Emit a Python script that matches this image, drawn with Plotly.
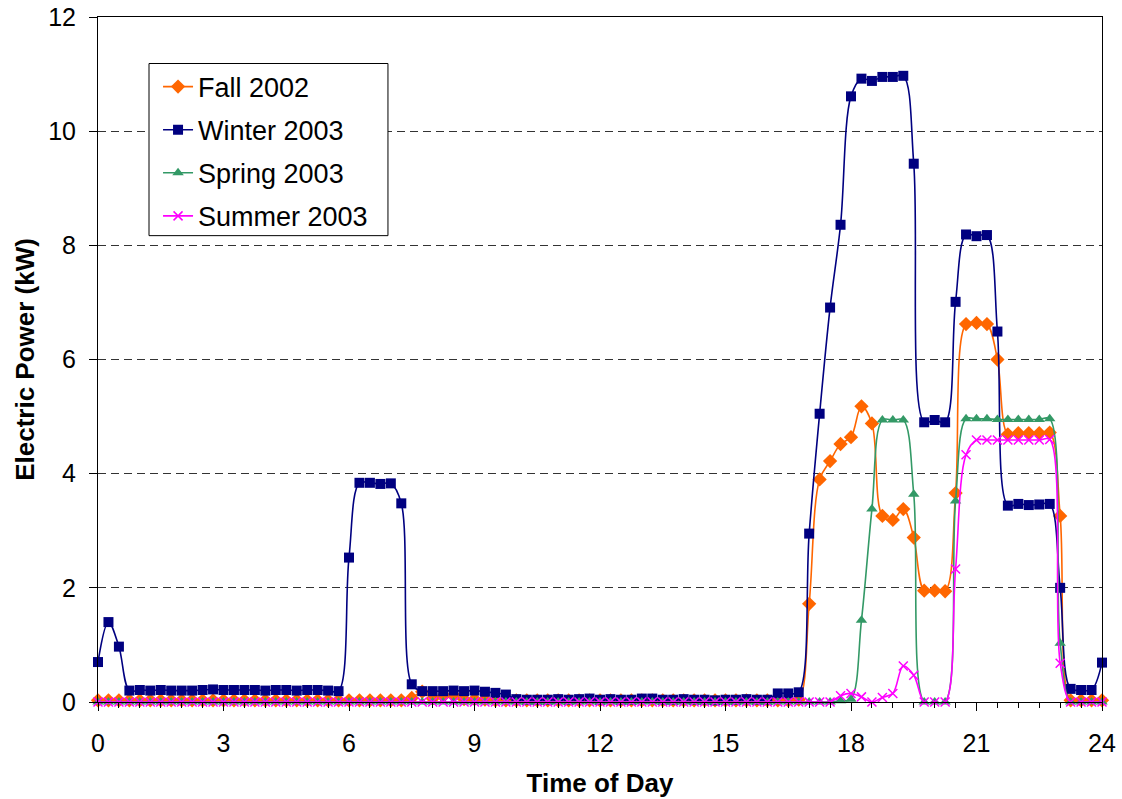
import plotly.graph_objects as go

# Time of day, sampled every 15 minutes from 0:00 to 24:00 (97 samples)
hours = [i * 0.25 for i in range(97)]

fall_2002 = [
    0.03, 0.03, 0.03, 0.03, 0.03, 0.03, 0.03, 0.03, 0.03, 0.03, 0.03, 0.03,
    0.03, 0.03, 0.03, 0.03, 0.03, 0.03, 0.03, 0.03, 0.03, 0.03, 0.03, 0.03,
    0.03, 0.03, 0.03, 0.03, 0.03, 0.03, 0.07, 0.18, 0.06, 0.10, 0.12, 0.05,
    0.05, 0.04, 0.03, 0.03, 0.03, 0.03, 0.03, 0.03, 0.03, 0.03, 0.03, 0.03,
    0.03, 0.03, 0.03, 0.03, 0.03, 0.03, 0.03, 0.03, 0.03, 0.03, 0.03, 0.03,
    0.03, 0.03, 0.03, 0.03, 0.03, 0.03, 0.03, 0.04, 1.72, 3.90, 4.22, 4.52,
    4.64, 5.18, 4.88, 3.26, 3.19, 3.38, 2.88, 1.95, 1.95, 1.94, 3.66, 6.62,
    6.64, 6.62, 6.00, 4.69, 4.71, 4.71, 4.71, 4.72, 3.26, 0.03, 0.03, 0.03,
    0.03,
]

winter_2003 = [
    0.70, 1.40, 0.97, 0.20, 0.21, 0.20, 0.21, 0.20, 0.20, 0.20, 0.21, 0.22,
    0.21, 0.21, 0.21, 0.21, 0.20, 0.21, 0.21, 0.20, 0.21, 0.21, 0.20, 0.19,
    2.53, 3.84, 3.84, 3.82, 3.83, 3.48, 0.31, 0.19, 0.19, 0.19, 0.20, 0.19,
    0.20, 0.18, 0.16, 0.13, 0.05, 0.04, 0.04, 0.04, 0.05, 0.04, 0.05, 0.06,
    0.04, 0.05, 0.04, 0.04, 0.06, 0.06, 0.04, 0.04, 0.05, 0.04, 0.04, 0.03,
    0.04, 0.04, 0.05, 0.04, 0.04, 0.15, 0.15, 0.17, 2.95, 5.05, 6.91, 8.36,
    10.61, 10.92, 10.88, 10.95, 10.95, 10.97, 9.43, 4.90, 4.94, 4.90, 7.01, 8.19,
    8.16, 8.18, 6.49, 3.44, 3.47, 3.45, 3.46, 3.47, 2.00, 0.23, 0.21, 0.21,
    0.69,
]

spring_2003 = [
    0.0, 0.0, 0.0, 0.0, 0.0, 0.0, 0.0, 0.0, 0.0, 0.0, 0.0, 0.0,
    0.0, 0.0, 0.0, 0.0, 0.0, 0.0, 0.0, 0.0, 0.0, 0.0, 0.0, 0.0,
    0.0, 0.0, 0.0, 0.0, 0.0, 0.0, 0.0, 0.0, 0.0, 0.0, 0.0, 0.0,
    0.0, 0.0, 0.0, 0.0, 0.0, 0.0, 0.0, 0.0, 0.0, 0.0, 0.0, 0.0,
    0.0, 0.0, 0.0, 0.0, 0.0, 0.0, 0.0, 0.0, 0.0, 0.0, 0.0, 0.0,
    0.0, 0.0, 0.0, 0.0, 0.0, 0.0, 0.0, 0.0, 0.0, 0.0, 0.0, 0.02,
    0.05, 1.43, 3.38, 4.94, 4.94, 4.94, 3.64, 0.0, 0.0, 0.0, 3.52, 4.96,
    4.96, 4.96, 4.95, 4.95, 4.95, 4.95, 4.95, 4.96, 1.03, 0.0, 0.0, 0.0,
    0.0,
]

summer_2003 = [
    0.0, 0.0, 0.0, 0.0, 0.0, 0.0, 0.0, 0.0, 0.0, 0.0, 0.0, 0.0,
    0.0, 0.0, 0.0, 0.0, 0.0, 0.0, 0.0, 0.0, 0.0, 0.0, 0.0, 0.0,
    0.0, 0.0, 0.0, 0.0, 0.0, 0.0, 0.0, 0.0, 0.0, 0.0, 0.0, 0.0,
    0.0, 0.0, 0.0, 0.0, 0.0, 0.0, 0.0, 0.0, 0.0, 0.0, 0.0, 0.0,
    0.0, 0.0, 0.0, 0.0, 0.0, 0.0, 0.0, 0.0, 0.0, 0.0, 0.0, 0.0,
    0.0, 0.0, 0.0, 0.0, 0.0, 0.0, 0.0, 0.0, 0.0, 0.0, 0.0, 0.11,
    0.15, 0.09, 0.0, 0.08, 0.15, 0.63, 0.47, 0.0, 0.0, 0.0, 2.33, 4.33,
    4.59, 4.59, 4.59, 4.59, 4.59, 4.59, 4.59, 4.60, 0.68, 0.0, 0.0, 0.0,
    0.0,
]

series = [
    ("Fall 2002", fall_2002, "#FF6600", "diamond", 11),
    ("Winter 2003", winter_2003, "#000080", "square", 10),
    ("Spring 2003", spring_2003, "#339966", "triangle-up", 10),
    ("Summer 2003", summer_2003, "#FF00FF", "x-thin-open", 9),
]

x_ticks = [0, 3, 6, 9, 12, 15, 18, 21, 24]
y_ticks = [0, 2, 4, 6, 8, 10, 12]

FONT = "Liberation Sans, Arial, sans-serif"

fig = go.Figure()
for i, (name, vals, color, sym, size) in enumerate(series):
    fig.add_trace(go.Scatter(
        x=hours, y=vals, name=name, mode="lines+markers",
        legendgroup=f"g{i}",
        line=dict(color=color, width=1.6, shape="spline", smoothing=1.0),
        marker=dict(symbol=sym, size=size, color=color,
                    line=dict(color=color, width=1.5 if sym.startswith("x") else 0)),
        cliponaxis=False,
    ))

# Legend frame (drawn as a shape so its size matches the original)
fig.add_shape(type="rect", xref="paper", yref="paper",
              x0=0.0508, x1=0.2888, y0=0.6808, y1=0.9321,
              line=dict(color="black", width=1), fillcolor="white", layer="above")

fig.update_layout(
    width=1122, height=799,
    margin=dict(l=98, r=20, t=17, b=97, autoexpand=False),
    paper_bgcolor="white", plot_bgcolor="white",
    font=dict(family=FONT, size=25, color="black"),
    showlegend=True,
    legend=dict(
        x=0.0598, y=0.9335, xanchor="left", yanchor="top",
        bgcolor="rgba(0,0,0,0)", borderwidth=0,
        font=dict(family=FONT, size=27, color="black"),
        tracegroupgap=5, itemwidth=30,
    ),
    xaxis=dict(
        range=[0, 24], tickvals=x_ticks, ticktext=[str(v) for v in x_ticks],
        ticks="outside", ticklen=8, tickcolor="black", tickwidth=1,
        minor=dict(dtick=0.5, tick0=0, ticks="outside", ticklen=5,
                   tickcolor="black", showgrid=False),
        showline=True, linecolor="black", linewidth=1, mirror=True,
        showgrid=False, zeroline=False, automargin=False,
        ticklabelstandoff=11,
        tickfont=dict(size=25),
        title=dict(text="<b>Time of Day</b>", font=dict(size=26), standoff=17),
    ),
    xaxis2=dict(
        range=[0, 24], tickvals=x_ticks, overlaying="x", anchor="y", side="bottom",
        ticks="inside", ticklen=7, tickcolor="black", showticklabels=False,
        showgrid=False, zeroline=False, showline=False, automargin=False,
    ),
    yaxis=dict(
        range=[0, 12], tickvals=y_ticks, ticktext=[str(v) for v in y_ticks],
        ticks="outside", ticklen=8, tickcolor="black",
        showline=True, linecolor="black", linewidth=1, mirror=True,
        showgrid=True, gridcolor="#333333", gridwidth=1, griddash="8px,5px",
        zeroline=False, automargin=False,
        ticklabelstandoff=8,
        tickfont=dict(size=25),
        title=dict(text="<b>Electric Power (kW)</b>", font=dict(size=26), standoff=6),
    ),
)

fig.write_html("out.html", config={"displayModeBar": False},
               post_script="document.body.style.margin='0';")
